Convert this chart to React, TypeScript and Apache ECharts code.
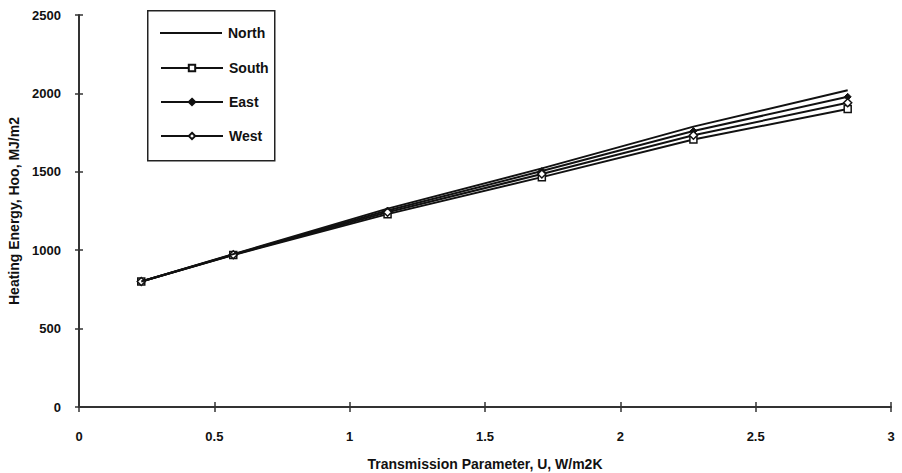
import React, { useEffect, useRef } from "react";
import * as echarts from "echarts";

// Transmission parameter U (W/m2K) at which each orientation was evaluated
const uValues = [0.23, 0.57, 1.14, 1.71, 2.27, 2.84];

// Heating energy Hoo (MJ/m2) per window orientation
const north = [800, 975, 1265, 1522, 1788, 2020];
const east = [800, 973, 1253, 1505, 1760, 1978];
const west = [800, 971, 1242, 1486, 1733, 1940];
const south = [800, 969, 1230, 1466, 1706, 1900];

const xTicks = [0, 0.5, 1, 1.5, 2, 2.5, 3];
const yTicks = [0, 500, 1000, 1500, 2000, 2500];

const FONT = "'Liberation Sans', Arial, sans-serif";

const pairs = (ys: number[]) => uValues.map((u, i) => [u, ys[i]]);

export default function App() {
  const ref = useRef<HTMLDivElement>(null);

  useEffect(() => {
    if (!ref.current) return;
    const chart = echarts.init(ref.current, undefined, { renderer: "svg" });

    const lineStyle = { color: "#111", width: 2 };
    const axisLine = { show: true, lineStyle: { color: "#333", width: 2 } };
    const labelStyle = {
      color: "#111",
      fontFamily: FONT,
      fontWeight: "bold" as const,
      fontSize: 13,
    };
    const legendText = { ...labelStyle, fontSize: 14, padding: [0, 0, 0, 1] };

    chart.setOption({
      animation: false,
      backgroundColor: "#fff",
      grid: { left: 79, right: 11, top: 15, bottom: 66, outerBoundsMode: "none", containLabel: false },
      graphic: [
        {
          type: "rect",
          left: 147,
          top: 10,
          shape: { width: 127, height: 150 },
          style: { fill: "#fff", stroke: "#222", lineWidth: 1.5 },
          z: 0,
        },
      ],
      legend: [
        {
          // plain line entry, no marker
          orient: "vertical",
          left: 160,
          top: 26,
          padding: 0,
          itemWidth: 62,
          itemHeight: 2,
          icon: "rect",
          textStyle: legendText,
          data: ["North"],
        },
        {
          orient: "vertical",
          left: 160,
          top: 61,
          padding: 0,
          itemWidth: 62,
          itemHeight: 8,
          itemGap: 20,
          textStyle: legendText,
          data: ["South", "East", "West"],
        },
      ],
      xAxis: [
        {
          type: "value",
          min: 0,
          max: 3,
          interval: 0.5,
          name: "Transmission Parameter, U, W/m2K",
          nameLocation: "middle",
          nameGap: 50,
          nameTextStyle: { ...labelStyle, fontSize: 14 },
          axisLine,
          axisTick: { show: true, length: 5, lineStyle: { color: "#333", width: 1.5 } },
          axisLabel: {
            ...labelStyle,
            margin: 23,
            formatter: (v: number) => (xTicks.includes(v) ? String(v) : ""),
          },
          splitLine: { show: false },
        },
        {
          type: "value",
          position: "bottom",
          min: 0,
          max: 3,
          interval: 0.5,
          axisLine: { show: false },
          axisTick: { show: true, inside: true, length: 5, lineStyle: { color: "#333", width: 1.5 } },
          axisLabel: { show: false },
          splitLine: { show: false },
        },
      ],
      yAxis: [
        {
          type: "value",
          min: 0,
          max: 2500,
          interval: 500,
          name: "Heating Energy, Hoo, MJ/m2",
          nameLocation: "middle",
          nameRotate: 90,
          nameGap: 54,
          nameTextStyle: { ...labelStyle, fontSize: 14 },
          axisLine,
          axisTick: { show: true, length: 4, lineStyle: { color: "#333", width: 1.5 } },
          axisLabel: {
            ...labelStyle,
            margin: 18,
            formatter: (v: number) => (yTicks.includes(v) ? String(v) : ""),
          },
          splitLine: { show: false },
        },
        {
          type: "value",
          position: "left",
          min: 0,
          max: 2500,
          interval: 500,
          axisLine: { show: false },
          axisTick: { show: true, inside: true, length: 4, lineStyle: { color: "#333", width: 1.5 } },
          axisLabel: { show: false },
          splitLine: { show: false },
        },
      ],
      series: [
        {
          name: "North",
          type: "line",
          data: pairs(north),
          symbol: "none",
          lineStyle,
          itemStyle: { color: "#111" },
          z: 4,
        },
        {
          name: "South",
          type: "line",
          data: pairs(south),
          symbol: "rect",
          symbolSize: 7,
          lineStyle,
          itemStyle: { color: "#fff", borderColor: "#111", borderWidth: 1.5 },
          z: 3,
        },
        {
          name: "East",
          type: "line",
          data: pairs(east),
          symbol: "diamond",
          symbolSize: 7,
          lineStyle,
          itemStyle: { color: "#111", borderColor: "#111", borderWidth: 1 },
          z: 3,
        },
        {
          name: "West",
          type: "line",
          data: pairs(west),
          symbol: "diamond",
          symbolSize: 8,
          lineStyle,
          itemStyle: { color: "#fff", borderColor: "#111", borderWidth: 1.5 },
          z: 3,
        },
      ],
    });

    return () => chart.dispose();
  }, []);

  return (
    <div
      ref={ref}
      style={{ position: "absolute", left: 0, top: 0, width: 902, height: 473 }}
    />
  );
}
